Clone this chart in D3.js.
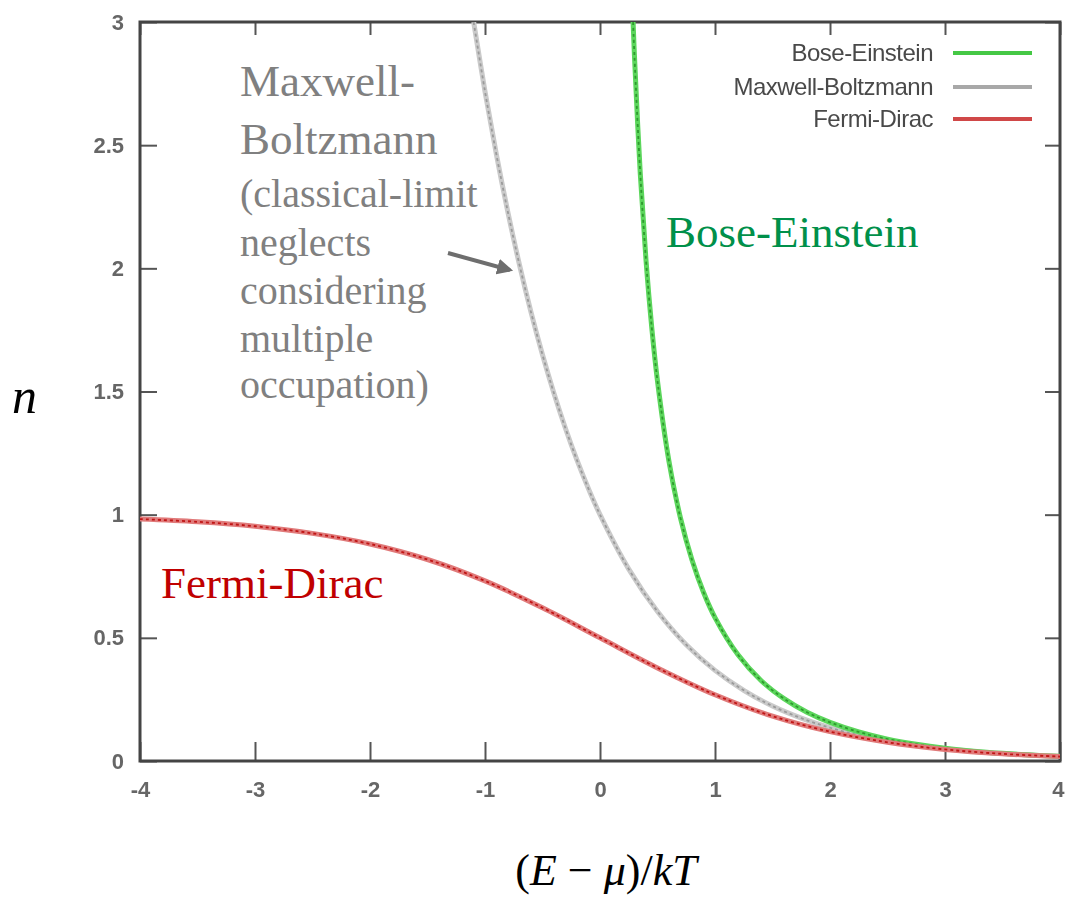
<!DOCTYPE html>
<html>
<head>
<meta charset="utf-8">
<script src="https://cdn.jsdelivr.net/npm/d3@7"></script>
<style>
  html, body { margin: 0; padding: 0; background: #fff; }
  svg { display: block; }
</style>
</head>
<body>
<svg id="chart" width="1065" height="897"></svg>
<script>
// ---- data ----
const xTicks = [-4, -3, -2, -1, 0, 1, 2, 3, 4];
const yTicks = [0, 0.5, 1, 1.5, 2, 2.5, 3];

const beX = [0.2877, 0.3, 0.35, 0.4, 0.45, 0.5, 0.6, 0.7, 0.8, 0.9, 1.0, 1.2, 1.4, 1.6, 1.8, 2.0, 2.25, 2.5, 2.75, 3.0, 3.25, 3.5, 3.75, 4.0];
const beY = [3.0, 2.858, 2.386, 2.033, 1.760, 1.542, 1.216, 0.986, 0.816, 0.685, 0.582, 0.431, 0.327, 0.253, 0.198, 0.157, 0.118, 0.089, 0.068, 0.052, 0.040, 0.031, 0.024, 0.019];

const mbX = [-1.0986, -1.0, -0.9, -0.8, -0.7, -0.6, -0.5, -0.4, -0.3, -0.2, -0.1, 0, 0.25, 0.5, 0.75, 1.0, 1.25, 1.5, 1.75, 2.0, 2.25, 2.5, 2.75, 3.0, 3.25, 3.5, 3.75, 4.0];
const mbY = [3.0, 2.718, 2.460, 2.226, 2.014, 1.822, 1.649, 1.492, 1.350, 1.221, 1.105, 1.0, 0.779, 0.607, 0.472, 0.368, 0.287, 0.223, 0.174, 0.135, 0.105, 0.082, 0.064, 0.050, 0.039, 0.030, 0.024, 0.018];

const fdX = [-4, -3.5, -3, -2.5, -2, -1.5, -1, -0.5, 0, 0.5, 1, 1.5, 2, 2.5, 3, 3.5, 4];
const fdY = [0.982, 0.971, 0.953, 0.924, 0.881, 0.818, 0.731, 0.622, 0.5, 0.378, 0.269, 0.182, 0.119, 0.076, 0.047, 0.029, 0.018];

const legendLabels = ["Bose-Einstein", "Maxwell-Boltzmann", "Fermi-Dirac"];
const mbNote = ["Maxwell-", "Boltzmann", "(classical-limit", "neglects", "considering", "multiple", "occupation)"];

// ---- layout ----
const svg = d3.select("#chart");
const L = 140, R = 1060, T = 22, B = 761;
const x = d3.scaleLinear().domain([-4, 4]).range([L, R]);
const y = d3.scaleLinear().domain([0, 3]).range([B, T]);

const defs = svg.append("defs");
defs.append("clipPath").attr("id", "clip")
  .append("rect").attr("x", L).attr("y", T).attr("width", R - L).attr("height", B - T);
defs.append("filter").attr("id", "soft")
  .append("feGaussianBlur").attr("stdDeviation", 0.7);
defs.append("marker").attr("id", "arrow")
  .attr("viewBox", "0 0 10 10").attr("refX", 8).attr("refY", 5)
  .attr("markerWidth", 4).attr("markerHeight", 4).attr("orient", "auto")
  .append("path").attr("d", "M0,0 L10,5 L0,10 z").attr("fill", "#6e6e6e");

// ---- axes ----
const tickFont = "'Liberation Sans', Arial, sans-serif";
function styleAxis(g) {
  g.select(".domain").remove();
  g.selectAll(".tick line").attr("stroke", "#555").attr("stroke-width", 2);
  g.selectAll(".tick text").attr("fill", "#666").attr("font-size", 22)
    .attr("font-weight", "bold")
    .attr("font-family", tickFont).attr("filter", "url(#soft)");
}
const xAxisG = svg.append("g").attr("transform", `translate(0,${B})`)
  .call(d3.axisBottom(x).tickValues(xTicks).tickFormat(d => String(d)).tickSize(-19).tickPadding(20))
  .call(styleAxis);
xAxisG.selectAll(".tick text").filter(d => d === 4).attr("text-anchor", "end").attr("dx", 4);
svg.append("g").attr("transform", `translate(0,${T})`)
  .call(d3.axisTop(x).tickValues(xTicks).tickFormat("").tickSize(-13))
  .call(styleAxis);
svg.append("g").attr("transform", `translate(${L},0)`)
  .call(d3.axisLeft(y).tickValues(yTicks).tickFormat(d => String(d)).tickSize(-17).tickPadding(16))
  .call(styleAxis);
svg.append("g").attr("transform", `translate(${R},0)`)
  .call(d3.axisRight(y).tickValues(yTicks).tickFormat("").tickSize(-15))
  .call(styleAxis);

// frame
svg.append("rect").attr("x", L).attr("y", T).attr("width", R - L).attr("height", B - T)
  .attr("fill", "none").attr("stroke", "#444").attr("stroke-width", 3);

// ---- curves ----
const line = d3.line().x(d => x(d[0])).y(d => y(d[1])).curve(d3.curveCatmullRom);
const series = [
  { xs: mbX, ys: mbY, outer: "#cacaca", inner: "#9a9a9a" },
  { xs: beX, ys: beY, outer: "#5cd65c", inner: "#2e9a2e" },
  { xs: fdX, ys: fdY, outer: "#e07a7a", inner: "#c01515" }
];
const cg = svg.append("g").attr("clip-path", "url(#clip)");
series.forEach(s => {
  const pts = s.xs.map((v, i) => [v, s.ys[i]]);
  cg.append("path").attr("d", line(pts)).attr("fill", "none")
    .attr("stroke", s.outer).attr("stroke-width", 5);
  cg.append("path").attr("d", line(pts)).attr("fill", "none")
    .attr("stroke", s.inner).attr("stroke-width", 1.8).attr("stroke-dasharray", "3,3");
});

// ---- legend ----
const legColors = ["#45c845", "#a8a8a8", "#d04848"];
const legY = [53, 87, 119];
legendLabels.forEach((t, i) => {
  svg.append("text").attr("x", 933).attr("y", legY[i]).attr("dy", "0.35em")
    .attr("text-anchor", "end").attr("font-family", tickFont).attr("font-size", 24)
    .attr("fill", "#4a4a4a").attr("letter-spacing", -0.5).attr("filter", "url(#soft)").text(t);
  svg.append("line").attr("x1", 953).attr("x2", 1032).attr("y1", legY[i]).attr("y2", legY[i])
    .attr("stroke", legColors[i]).attr("stroke-width", 4);
});

// ---- annotations ----
const serif = "'Liberation Serif', 'Times New Roman', serif";
const noteY = [96, 154, 207, 256, 304, 352, 398];
mbNote.forEach((t, i) => {
  svg.append("text").attr("x", 240).attr("y", noteY[i])
    .attr("font-family", serif).attr("font-size", i < 2 ? 45 : 40)
    .attr("fill", "#808080").text(t);
});
svg.append("line").attr("x1", 448).attr("y1", 253).attr("x2", 510).attr("y2", 270)
  .attr("stroke", "#6e6e6e").attr("stroke-width", 4).attr("marker-end", "url(#arrow)");

svg.append("text").attr("x", 666).attr("y", 247).attr("font-family", serif)
  .attr("font-size", 45).attr("fill", "#00904a").text("Bose-Einstein");
svg.append("text").attr("x", 161).attr("y", 598).attr("font-family", serif)
  .attr("font-size", 45).attr("fill", "#c00000").text("Fermi-Dirac");

// axis titles
svg.append("text").attr("x", 12).attr("y", 413).attr("font-family", serif)
  .attr("font-style", "italic").attr("font-size", 50).attr("fill", "#000").text("n");

const xt = svg.append("text").attr("x", 606).attr("y", 885).attr("text-anchor", "middle")
  .attr("font-family", serif).attr("font-size", 44).attr("fill", "#000");
xt.append("tspan").text("(");
xt.append("tspan").attr("font-style", "italic").text("E");
xt.append("tspan").text(" − ");
xt.append("tspan").attr("font-style", "italic").text("μ");
xt.append("tspan").text(")/");
xt.append("tspan").attr("font-style", "italic").text("kT");
</script>
</body>
</html>
